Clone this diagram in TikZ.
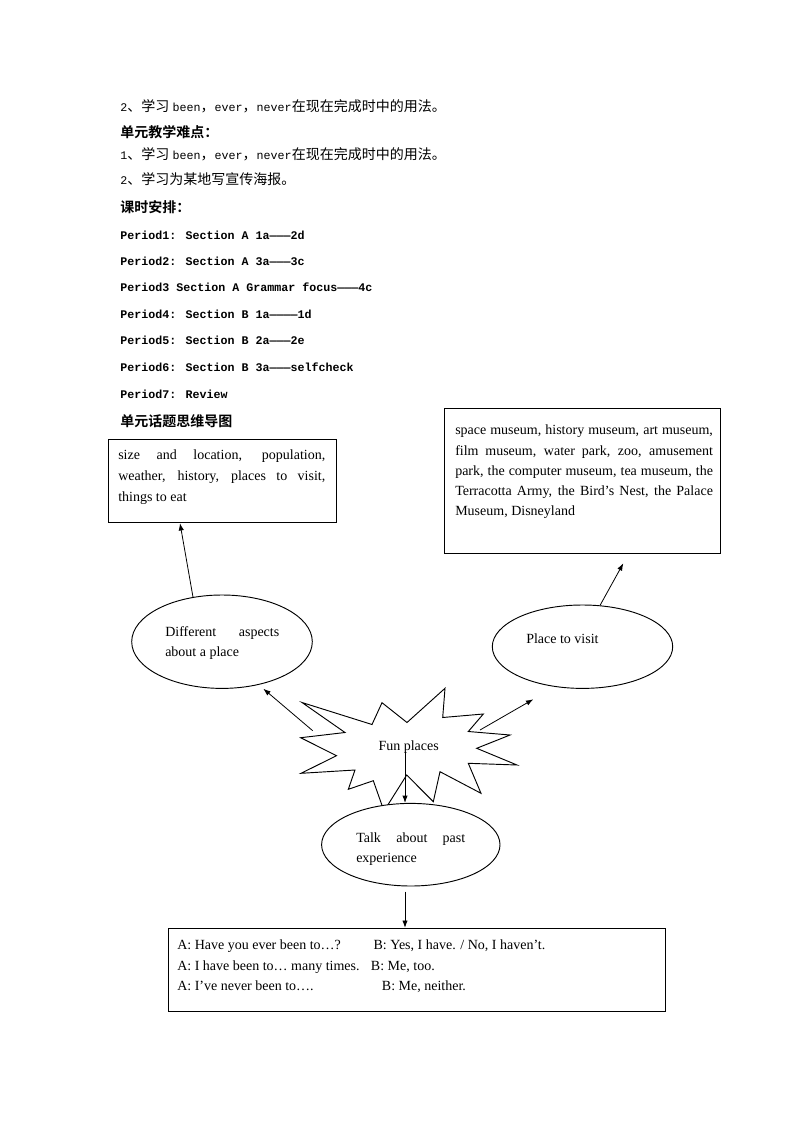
\documentclass[tikz,border=0pt]{standalone}
\usepackage{fontspec}
\setmainfont{Liberation Serif}
\newfontfamily\cjk{Noto Sans CJK SC}[BoldFont={Noto Sans CJK SC Bold}]
\newfontfamily\mono{Liberation Mono}
\usetikzlibrary{arrows.meta,shapes.geometric}
\newdimen\pxu \pxu=0.75pt
\newcommand\mt[1]{{\mono\fontsize{8.75}{10}\selectfont #1}}
\newcommand\ct[1]{{\cjk\fontsize{10.5}{12}\selectfont #1}}
\newcommand\jl[2]{\makebox[#1\pxu][s]{#2}}
\tikzset{
  txt/.style={anchor=base west, inner sep=0pt, font=\fontsize{10.5}{12}\selectfont},
  cn/.style={anchor=base west, inner sep=0pt, font=\cjk\fontsize{10.5}{12}\selectfont},
  hd/.style={anchor=base west, inner sep=0pt, font=\cjk\bfseries\fontsize{10.5}{12}\selectfont},
  per/.style={anchor=base west, inner sep=0pt, font=\mono\bfseries\fontsize{8.75}{10}\selectfont},
  boxn/.style={draw, rectangle, line width=0.7pt, inner sep=0pt},
  oval/.style={draw, fill=white, ellipse, inner sep=0pt, line width=0.7pt},
  arr/.style={-{Latex[length=5.5pt,width=4pt]}, line width=0.6pt},
  starline/.style={line width=0.7pt, line join=miter},
}
\begin{document}
\begin{tikzpicture}[x=0.75pt, y=-0.75pt]
\useasboundingbox (0,0) rectangle (794,1123);

% ---- header text ----
\node[cn] (l1) at (120,112) {\mt{2}、学习\hspace{2.6pt}\mt{been}，\mt{ever}，\mt{never}在现在完成时中的用法。};
\node[hd] (h1) at (120,137.5) {单元教学难点：};
\node[cn] (l3) at (120,159.5) {\mt{1}、学习\hspace{2.6pt}\mt{been}，\mt{ever}，\mt{never}在现在完成时中的用法。};
\node[cn] (l4) at (120,184.5) {\mt{2}、学习为某地写宣传海报。};
\node[hd] (h2) at (120,213) {课时安排：};
\node[per] (p1) at (120,239) {Period1: Section A 1a———2d};
\node[per] (p2) at (120,265.7) {Period2: Section A 3a———3c};
\node[per] (p3) at (120,291.7) {Period3 Section A Grammar focus———4c};
\node[per] (p4) at (120,318.3) {Period4: Section B 1a————1d};
\node[per] (p5) at (120,344.7) {Period5: Section B 2a———2e};
\node[per] (p6) at (120,371.3) {Period6: Section B 3a———selfcheck};
\node[per] (p7) at (120,398.3) {Period7: Review};
\node[hd] (h3) at (120,426.5) {单元话题思维导图};

% ---- boxes ----
\node[boxn, minimum width=228.4\pxu, minimum height=83.4\pxu] (b1) at (222.5,481) {};
\node[txt] (b1a) at (118,459.5) {\jl{207}{size and location, population,}};
\node[txt] (b1b) at (118,480.5) {\jl{207}{weather, history, places to visit,}};
\node[txt] (b1c) at (118,501.5) {things to eat};

\node[boxn, minimum width=276.7\pxu, minimum height=145\pxu] (b2) at (582.35,480.8) {};
\node[txt] (b2a) at (455,434.5) {\jl{257.7}{space museum, history museum, art museum,}};
\node[txt] (b2b) at (455,455) {\jl{257.7}{film museum, water park, zoo, amusement}};
\node[txt] (b2c) at (455,475.2) {\jl{257.7}{park, the computer museum, tea museum, the}};
\node[txt] (b2d) at (455,495.5) {\jl{257.7}{Terracotta Army, the Bird’s Nest, the Palace}};
\node[txt] (b2e) at (455,515.7) {Museum, Disneyland};

\node[boxn, minimum width=497.4\pxu, minimum height=83.4\pxu] (bb) at (417,970) {};
\node[txt] (q1) at (177,949) {A: Have you ever been to…?};
\node[txt] (r1) at (373.3,949) {B: Yes, I have. / No, I haven’t.};
\node[txt] (q2) at (177,970) {A: I have been to… many times.};
\node[txt] (r2) at (370.7,970) {B: Me, too.};
\node[txt] (q3) at (177,990) {A: I’ve never been to….};
\node[txt] (r3) at (381.7,990) {B: Me, neither.};

% ---- starburst ----
\draw[starline] (302,702.5) -- (372,724.5) -- (382,702.7) -- (407,722.5) -- (445,688.3)
  -- (442.7,717.5) -- (483.3,714) -- (468.3,731.5) -- (510,735) -- (476.7,748.3)
  -- (517,765) -- (468.3,763.3) -- (481,793.3) -- (440,771.7) -- (433.3,801.7)
  -- (406.7,775) -- (384,811) -- (373.3,780.7) -- (348.3,789.3) -- (355,770)
  -- (301,773.3) -- (336.5,755.7) -- (300.7,737.7) -- (345,732.5) -- cycle;
\node[txt] (fun) at (378.3,750.5) {Fun places};

% ---- ellipses ----
\node[oval, minimum width=180.6\pxu, minimum height=93.4\pxu] (e1) at (222,641.7) {};
\node[txt] (e1a) at (165,636) {\jl{114}{Different aspects}};
\node[txt] (e1b) at (165,656.5) {about a place};

\node[oval, minimum width=180.4\pxu, minimum height=83.4\pxu] (e2) at (582.5,646.7) {};
\node[txt] (e2a) at (526,643) {Place to visit};

\node[oval, minimum width=178.4\pxu, minimum height=82.6\pxu] (e3) at (410.8,844.7) {};
\node[txt] (e3a) at (356,842.5) {\jl{109}{Talk about past}};
\node[txt] (e3b) at (356,862.5) {experience};

% ---- connectors ----
\coordinate (s1) at (312.7,730.7);
\coordinate (c1) at (263.3,688.7);
\coordinate (s2) at (480,730);
\coordinate (c2) at (533.3,699.3);
\coordinate (s3) at (405,751.7);
\coordinate (s4) at (405,891.7);
\coordinate (c4) at (623.3,563.3);

\draw[arr] (e1.123.5) -- ([xshift=-42.5\pxu]b1.south);
\draw[arr] (e2.67) -- (c4);
\draw[arr] (s1) -- (c1);
\draw[arr] (s2) -- (c2);
\draw[arr] (s3) -- (s3 |- e3.north);
\draw[arr] (s4) -- (s4 |- bb.north);
\end{tikzpicture}
\end{document}
